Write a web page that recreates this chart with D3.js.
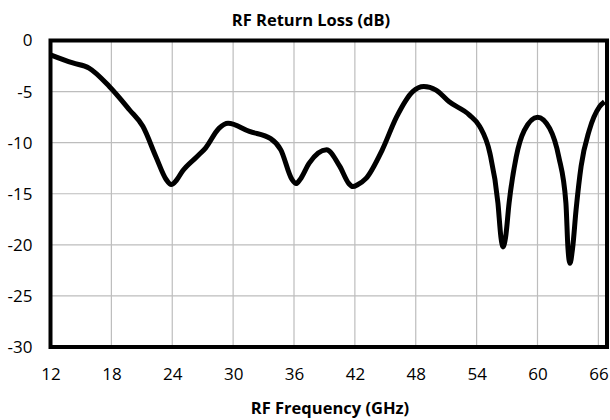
<!DOCTYPE html>
<html>
<head>
<meta charset="utf-8">
<script src="https://cdn.jsdelivr.net/npm/d3@7"></script>
<style>
  body { margin: 0; background: #fff; }
  text { font-family: "Open Sans", "Liberation Sans", sans-serif; fill: #000; }
</style>
</head>
<body>
<script>
const freq = [12, 14.2, 15.8, 17.8, 19.8, 21.1, 22.4, 23.4, 23.9, 24.4, 25.0, 26.4, 27.3, 28.6, 29.5,
  31.6, 33.7, 34.7, 35.8, 36.2, 36.6, 37.5, 39.2, 40.5, 41.4, 41.8, 42.3, 43.1, 44.7, 46.1, 47.7, 48.8, 50.0,
  51.3, 53.3, 54.3, 55.3, 56.1, 56.4, 56.6, 56.85, 57.2, 57.9, 58.7, 60.0, 61.2, 62.1, 62.8, 63.0, 63.2,
  63.45, 63.8, 64.3, 65.1, 66.1, 66.6];
const loss = [-1.4, -2.2, -2.7, -4.5, -6.8, -8.4, -11.4, -13.6, -14.1, -13.7, -12.8, -11.4, -10.5, -8.6, -8.1,
  -8.9, -9.6, -10.7, -13.6, -14.0, -13.6, -12.0, -10.7, -12.3, -14.0, -14.3, -14.1, -13.5, -10.7, -7.5, -5.0, -4.5, -4.85,
  -6.0, -7.3, -8.4, -11.0, -15.9, -19.3, -20.2, -19.3, -15.9, -11.4, -8.8, -7.5, -8.6, -11.4, -15.9, -20.3, -21.8,
  -20.4, -16.6, -12.3, -8.8, -6.5, -6.0];
const xTicks = [12, 18, 24, 30, 36, 42, 48, 54, 60, 66];
const yTicks = [0, -5, -10, -15, -20, -25, -30];

const width = 610,
    height = 420;
const margin = {top: 40.5, right: 3, bottom: 73, left: 50.5};

const svg = d3.select('body').append('svg')
    .attr('width', width)
    .attr('height', height);

const x = d3.scaleLinear().domain([12, 66.85]).range([margin.left, width - margin.right]);
const y = d3.scaleLinear().domain([-30, 0]).range([height - margin.bottom, margin.top]);

// grid
svg.append("g").selectAll("line")
    .data(xTicks.slice(1))
    .enter().append("line")
    .attr("x1", d => x(d)).attr("x2", d => x(d))
    .attr("y1", y(0)).attr("y2", y(-30))
    .attr("stroke", "#bdbdbd").attr("stroke-width", 1.2);

svg.append("g").selectAll("line")
    .data(yTicks.slice(1, -1))
    .enter().append("line")
    .attr("x1", x.range()[0]).attr("x2", x.range()[1])
    .attr("y1", d => y(d)).attr("y2", d => y(d))
    .attr("stroke", "#bdbdbd").attr("stroke-width", 1.2);

// axes (labels only), plain hyphen like the original
const xAxis = svg.append("g")
    .attr("transform", "translate(0," + y(-30) + ")")
    .call(d3.axisBottom(x).tickValues(xTicks).tickFormat(d => String(d)).tickSize(0).tickPadding(21));
const yAxis = svg.append("g")
    .attr("transform", "translate(" + (x(12) - 18) + ",0)")
    .call(d3.axisLeft(y).tickValues(yTicks).tickFormat(d => String(d)).tickSize(0).tickPadding(0));
[xAxis, yAxis].forEach(a => {
  a.select(".domain").remove();
  a.selectAll("text").style("font-size", "17px").attr("fill", "#000");
});

// curve
const points = freq.map((f, i) => [f, loss[i]]);
svg.append("path")
    .datum(points)
    .attr("fill", "none")
    .attr("stroke", "#000")
    .attr("stroke-width", 5)
    .attr("stroke-linejoin", "round")
    .attr("d", d3.line().x(d => x(d[0])).y(d => y(d[1])).curve(d3.curveMonotoneX));

// frame
svg.append("rect")
    .attr("x", x.range()[0]).attr("y", y(0))
    .attr("width", x.range()[1] - x.range()[0])
    .attr("height", y(-30) - y(0))
    .attr("fill", "none").attr("stroke", "#000").attr("stroke-width", 4);

// titles
svg.append("text")
    .attr("x", 311).attr("y", 26)
    .attr("text-anchor", "middle")
    .style("font-size", "16.5px").style("font-weight", "bold")
    .text("RF Return Loss (dB)");

svg.append("text")
    .attr("x", 330).attr("y", 414)
    .attr("text-anchor", "middle")
    .style("font-size", "16.5px").style("font-weight", "bold")
    .text("RF Frequency (GHz)");
</script>
</body>
</html>
